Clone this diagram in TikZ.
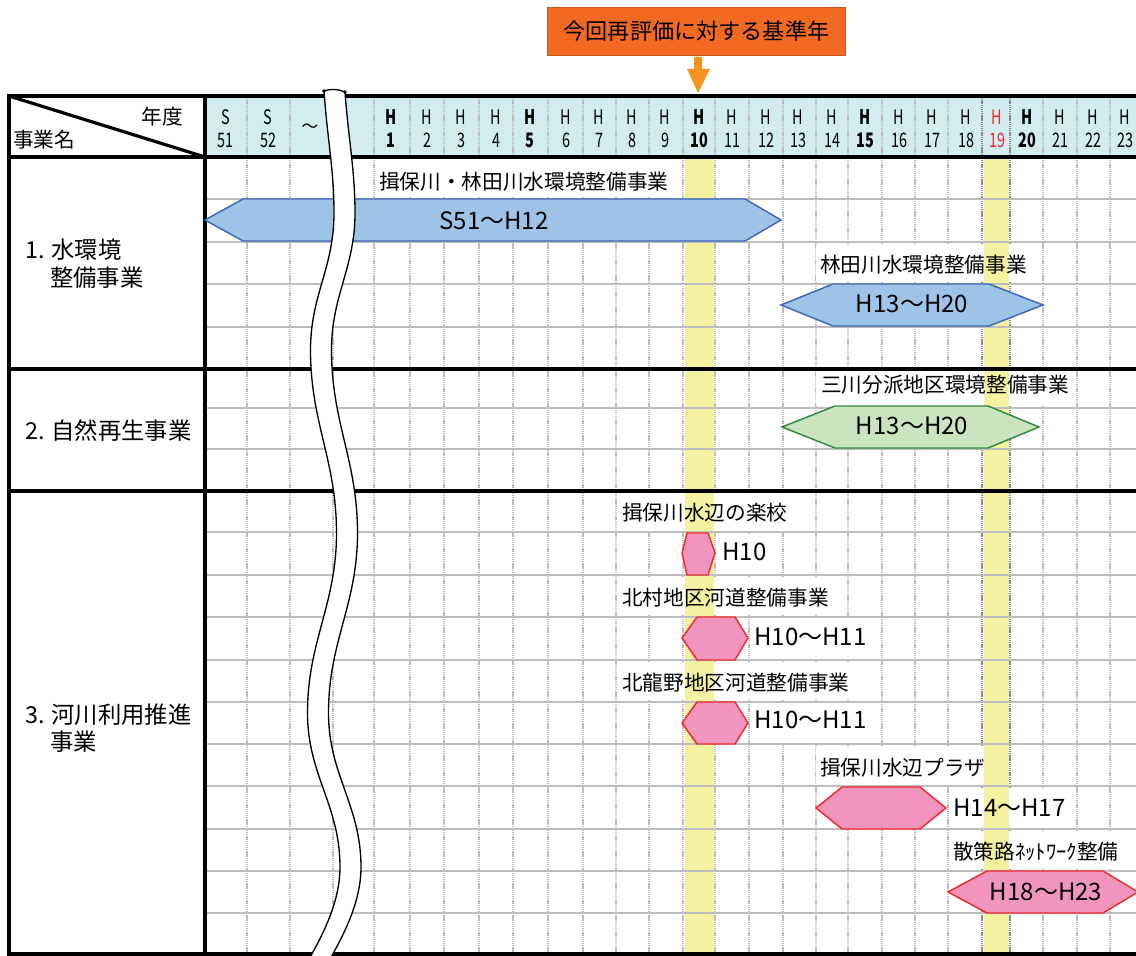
\documentclass[tikz,border=0pt]{standalone}
\usepackage{fontspec}
\setmainfont{Noto Sans CJK JP}
\newfontfamily\hdrfont[FakeStretch=0.72]{Noto Sans CJK JP}
\definecolor{hdrbg}{HTML}{D2ECF0}
\definecolor{hlyel}{HTML}{F4F1A0}
\definecolor{gridgray}{HTML}{BDBDBD}
\definecolor{darkgrid}{HTML}{8A8A8A}
\definecolor{barblue}{HTML}{9DC3E6}
\definecolor{barblueline}{HTML}{3F66B8}
\definecolor{bargreen}{HTML}{CBE4C0}
\definecolor{bargreenline}{HTML}{2E8B3E}
\definecolor{barpink}{HTML}{F195BE}
\definecolor{barpinkline}{HTML}{EE2A2A}
\definecolor{boxorange}{HTML}{F26A22}
\definecolor{boxorangeline}{HTML}{C8581C}
\definecolor{arroworange}{HTML}{F7941D}
\definecolor{hred}{HTML}{F0282D}
\tikzset{
  gridv/.style={draw=gridgray, line width=1.2pt, dash pattern=on 1pt off 0.6pt},
  gridh/.style={draw=gridgray, line width=1.9pt},
  blk/.style={draw=black, line width=3pt},
  lbl/.style={anchor=west, inner sep=0pt, font=\fontsize{15.5pt}{16pt}\selectfont},
  val/.style={inner sep=0pt, font=\fontsize{18pt}{18pt}\selectfont},
  vallbl/.style={val, anchor=west},
  sec/.style={anchor=west, inner sep=0pt, font=\fontsize{17.5pt}{18pt}\selectfont},
  hd/.style={inner sep=0pt, font=\hdrfont\fontsize{15pt}{15pt}\selectfont},
  hdb/.style={inner sep=0pt, font=\hdrfont\bfseries\fontsize{15pt}{15pt}\selectfont},
  bluebar/.style={fill=barblue, draw=barblueline, line width=1.1pt},
  greenbar/.style={fill=bargreen, draw=bargreenline, line width=1.1pt},
  pinkbar/.style={fill=barpink, draw=barpinkline, line width=1.1pt},
  wavedge/.style={draw=black, line width=1pt},
}
\begin{document}
\begin{tikzpicture}[x=0.75pt,y=-0.75pt]
\useasboundingbox (0,0) rectangle (1136,956);
\clip (0,0) rectangle (1136,956);
% header background
\fill[hdrbg] (205,96) rectangle (1136,157);
% vertical dotted grid
\foreach \x in {247,290,333,374,410,444,479,513,548,583,616,649,683,715,749,783,816,848,882,915,948,1043,1077,1110}
  \draw[gridv] (\x,96) -- (\x,954);
\foreach \x in {982,1010}
  \draw[gridv, draw=darkgrid] (\x,96) -- (\x,954);
% white boxes behind labels
\fill[white] (376,159) rectangle (681,197);
\fill[white] (816,244) rectangle (1034,282);
\fill[white] (816,371) rectangle (1076,406);
\fill[white] (618,493) rectangle (792,530);
\fill[white] (618,577) rectangle (834,615);
\fill[white] (618,662) rectangle (856,700);
\fill[white] (816,746) rectangle (992,784);
\fill[white] (950,831) rectangle (1124,869);
\fill[white] (718,534) rectangle (766,573);
\fill[white] (750,619) rectangle (866,658);
\fill[white] (750,704) rectangle (866,743);
\fill[white] (950,788) rectangle (1066,827);
% yellow highlight columns
\fill[hlyel] (684.5,159) rectangle (713.5,954);
\fill[hlyel] (983.5,159) rectangle (1008.5,954);
% horizontal grid
\foreach \y in {199,242,284,327,408,449,532,575,617,660,702,744,786,829,871,913}
  \draw[gridh] (205,\y) -- (1136,\y);
% black frame lines
\draw[blk] (7.5,96) -- (1136,96);
\draw[blk] (9,157) -- (1136,157);
\draw[blk] (9,369) -- (1136,369);
\draw[blk] (9,491) -- (1136,491);
\draw[blk] (7.5,954) -- (1136,954);
\draw[blk] (9,94.5) -- (9,958);
\draw[blk] (205,94.5) -- (205,958);
\draw[draw=black, line width=2.4pt] (9,96) -- (205,157);
% corner header texts
\node[inner sep=0pt, font=\fontsize{15.5pt}{16pt}\selectfont] (nendo) at (162,117) {年度};
\node[lbl] (jigyomei) at (13,140) {事業名};
% header year labels
\node[hd] (hs51) at (225.5,117) {S};
\node[hd] (hn51) at (225.5,140) {51};
\node[hd] (hs52) at (268,117) {S};
\node[hd] (hn52) at (268,140) {52};
\node[inner sep=0pt, font=\fontsize{12.5pt}{12.5pt}\selectfont] (htilde) at (310,128) {～};
\foreach \x/\n in {427/2,461/3,496/4,566/6,599/7,632/8,665/9,732/11,766/12,798/13,832/14,899/16,932/17,966/18,1060/21,1093/22,1125/23}{
  \node[hd] (hh\n) at (\x,117) {H};
  \node[hd] (hn\n) at (\x,140) {\n};
}
\foreach \x/\n in {391/1,530/5,699/10,865/15,1027/20}{
  \node[hdb] (hh\n) at (\x,117) {H};
  \node[hdb] (hn\n) at (\x,140) {\n};
}
\node[hd, text=hred] (hh19) at (997,117) {H};
\node[hd, text=hred] (hn19) at (997,140) {19};
% section labels
\node[sec] (s1a) at (25,250) {1. 水環境};
\node[sec] (s1b) at (50,278) {整備事業};
\node[sec] (s2) at (25,431) {2. 自然再生事業};
\node[sec] (s3a) at (25,715) {3. 河川利用推進};
\node[sec] (s3b) at (50,742) {事業};
% project labels
\node[lbl] (l1) at (379,182) {揖保川・林田川水環境整備事業};
\node[lbl] (l2) at (820,265) {林田川水環境整備事業};
\node[lbl] (l3) at (821,385) {三川分派地区環境整備事業};
\node[lbl] (l4) at (622,513) {揖保川水辺の楽校};
\node[lbl] (l5) at (622,598) {北村地区河道整備事業};
\node[lbl] (l6) at (622,683) {北龍野地区河道整備事業};
\node[lbl] (l7) at (820,768) {揖保川水辺プラザ};
\node[lbl] (l8) at (953,852) {散策路ﾈｯﾄﾜｰｸ整備};
% bars
\draw[bluebar] (205,220) -- (243,199) -- (745,199) -- (781,220) -- (745,241) -- (243,241) -- cycle;
\draw[bluebar] (781,305) -- (833,284) -- (989,284) -- (1043,305) -- (989,326) -- (833,326) -- cycle;
\draw[greenbar] (782,427) -- (835,406) -- (988,406) -- (1039,427) -- (988,448) -- (835,448) -- cycle;
\draw[pinkbar] (682,553) -- (687,533) -- (708,533) -- (715,553) -- (708,575) -- (687,575) -- cycle;
\draw[pinkbar] (682,638) -- (697,617) -- (735,617) -- (748,638) -- (735,660) -- (697,660) -- cycle;
\draw[pinkbar] (682,723) -- (697,702) -- (735,702) -- (748,723) -- (735,744) -- (697,744) -- cycle;
\draw[pinkbar] (816,808) -- (842,787) -- (920,787) -- (946,808) -- (920,829) -- (842,829) -- cycle;
\draw[pinkbar] (948,892) -- (987,871) -- (1103,871) -- (1138,892) -- (1103,913) -- (987,913) -- cycle;
% bar value labels
\node[val] (v1) at (494,221) {S51～H12};
\node[val] (v2) at (912,304) {H13～H20};
\node[val] (v3) at (912,426) {H13～H20};
\node[vallbl] (v4) at (722,552) {H10};
\node[vallbl] (v5) at (754,637) {H10～H11};
\node[vallbl] (v6) at (754,720) {H10～H11};
\node[vallbl] (v7) at (953,808) {H14～H17};
\node[val] (v8) at (1046,892) {H18～H23};
% wave break
\fill[white] (324,91) .. controls (327.5,140) and (334,170) .. (334,213)
  .. controls (334,268) and (310.5,295) .. (310.5,350)
  .. controls (310.5,423) and (336.5,460) .. (336.5,533)
  .. controls (336.5,605) and (307.5,641) .. (307.5,713)
  .. controls (307.5,775) and (340,805) .. (340,867)
  .. controls (340,905) and (319.5,940) .. (307.5,962)
  -- (328.5,962)
  .. controls (340.5,940) and (361,905) .. (361,867)
  .. controls (361,805) and (328.5,775) .. (328.5,713)
  .. controls (328.5,641) and (357.5,605) .. (357.5,533)
  .. controls (357.5,460) and (331.5,423) .. (331.5,350)
  .. controls (331.5,295) and (355,268) .. (355,213)
  .. controls (355,170) and (348.5,140) .. (345,92)
  .. controls (338,89) and (331,88.5) .. (324,91) -- cycle;
\draw[wavedge] (324,91) .. controls (327.5,140) and (334,170) .. (334,213)
  .. controls (334,268) and (310.5,295) .. (310.5,350)
  .. controls (310.5,423) and (336.5,460) .. (336.5,533)
  .. controls (336.5,605) and (307.5,641) .. (307.5,713)
  .. controls (307.5,775) and (340,805) .. (340,867)
  .. controls (340,905) and (319.5,940) .. (307.5,962);
\draw[wavedge] (345,92) .. controls (348.5,140) and (355,170) .. (355,213)
  .. controls (355,268) and (331.5,295) .. (331.5,350)
  .. controls (331.5,423) and (357.5,460) .. (357.5,533)
  .. controls (357.5,605) and (328.5,641) .. (328.5,713)
  .. controls (328.5,775) and (361,805) .. (361,867)
  .. controls (361,905) and (340.5,940) .. (328.5,962);
\draw[wavedge] (324,91) .. controls (331,88.5) and (338,89) .. (345,92);
\fill[black] (324,91) circle[radius=1.8];
\fill[black] (345,92) circle[radius=1.8];
% reference-year box and arrow
\node[fill=boxorange, draw=boxorangeline, line width=0.6pt, minimum width=224pt, minimum height=36pt, inner sep=0pt, font=\fontsize{16.6pt}{17pt}\selectfont] (ref) at (696.5,31) {今回再評価に対する基準年};
\fill[arroworange] (694,57) -- (702,57) -- (702,69) -- (710,69) -- (698,93) -- (687,69) -- (694,69) -- cycle;
\end{tikzpicture}
\end{document}
